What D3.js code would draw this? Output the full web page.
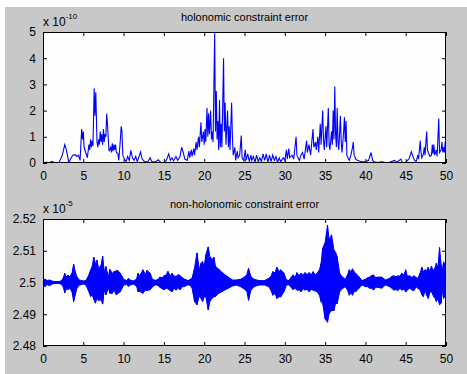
<!DOCTYPE html>
<html>
<head>
<meta charset="utf-8">
<script src="https://cdn.jsdelivr.net/npm/d3@7"></script>
<style>
  html, body { margin: 0; padding: 0; background: #fff; }
  svg { display: block; }
  text { font-family: "Liberation Sans", Arial, sans-serif; fill: #000; }
</style>
</head>
<body>
<svg id="fig" width="467" height="374"></svg>
<script>
// ---- data ----
// holonomic constraint error, values in units of 1e-10
const holoT = [0,0.5,0.8,1.1,1.4,2.0,2.4,2.7,2.9,3.2,3.5,3.7,4.0,4.2,4.4,4.6,4.8,4.9,5.0,5.1,5.3,5.5,5.7,5.8,5.9,6.0,6.1,6.2,6.35,6.45,6.55,6.7,6.8,6.9,7.0,7.1,7.2,7.3,7.4,7.5,7.6,7.7,7.8,7.9,8.0,8.1,8.2,8.4,8.5,8.6,8.7,8.8,8.9,9.0,9.1,9.3,9.4,9.6,9.7,9.8,9.9,10.1,10.3,10.5,10.7,10.9,11.1,11.3,11.5,11.7,12.1,12.3,12.6,13.0,13.3,13.5,14.0,14.3,14.6,15.0,15.3,15.6,15.8,16.0,16.2,16.5,16.7,17.0,17.2,17.4,17.6,17.9,18.1,18.2,18.4,18.5,18.7,18.8,19.0,19.1,19.3,19.4,19.6,19.7,19.9,20.0,20.1,20.2,20.35,20.45,20.55,20.65,20.8,20.9,21.0,21.1,21.3,21.4,21.5,21.6,21.7,21.8,21.9,22.0,22.1,22.2,22.4,22.5,22.6,22.7,22.9,23.0,23.1,23.2,23.4,23.5,23.6,23.8,23.9,24.1,24.2,24.4,24.6,24.7,24.9,25.1,25.2,25.4,25.6,25.8,25.9,26.1,26.3,26.5,26.7,26.9,27.1,27.3,27.5,27.7,27.9,28.1,28.3,28.5,28.7,28.9,29.1,29.3,29.5,29.8,30.0,30.2,30.3,30.5,30.6,30.9,31.1,31.4,31.5,31.8,32.0,32.2,32.4,32.7,32.8,33.0,33.2,33.5,33.6,33.8,33.9,34.1,34.2,34.4,34.5,34.7,34.8,34.9,35.1,35.2,35.4,35.5,35.6,35.8,35.9,36.0,36.1,36.2,36.3,36.4,36.5,36.6,36.7,36.9,37.0,37.1,37.3,37.4,37.5,37.6,37.7,37.9,38.0,38.2,38.4,38.5,38.6,38.8,39.0,39.5,40.0,40.4,40.7,40.9,41.1,41.5,42.0,42.5,43.0,43.6,43.9,44.4,44.6,45.0,45.4,45.7,45.9,46.1,46.3,46.5,46.6,46.8,46.9,47.0,47.2,47.3,47.4,47.6,47.7,47.8,48.0,48.2,48.3,48.4,48.5,48.6,48.8,48.9,49.1,49.2,49.4,49.5,49.6,49.7,49.8,49.9,50.0];
const holoV = [0.02,0.03,0.01,0.06,0.01,0.02,0.3,0.7,0.5,0.02,0.2,0.3,0.32,0.25,0.3,0.1,1.3,0.9,1.2,0.6,0.4,0.2,0.7,0.5,0.9,0.6,0.85,0.65,2.85,1.8,2.7,0.8,0.6,0.9,0.7,1.2,0.8,1.1,0.7,1.3,0.8,1.1,1.0,1.88,1.5,0.9,0.45,0.6,0.4,0.75,0.45,0.7,0.5,0.7,0.4,0.35,0.1,0.9,1.4,1.2,0.3,0.15,0.05,0.25,0.1,0.48,0.2,0.1,0.25,0.05,0.42,0.15,0.05,0.05,0.2,0.05,0.05,0.12,0.02,0.02,0.1,0.35,0.1,0.2,0.08,0.25,0.1,0.25,0.6,0.4,0.15,0.1,0.45,0.2,0.5,0.25,0.55,0.3,0.8,0.5,1.0,0.6,1.55,0.8,1.2,0.7,1.3,0.8,2.1,1.0,1.9,1.1,2.0,0.9,1.2,0.8,4.95,1.2,2.75,0.9,1.6,0.5,2.4,0.6,1.5,0.6,4.0,1.2,2.3,0.7,2.0,0.6,1.4,0.5,2.3,1.0,0.3,0.6,0.1,0.45,0.2,0.3,1.05,0.2,0.1,0.5,0.1,0.35,0.05,0.3,0.1,0.25,0.02,0.3,0.05,0.2,0.05,0.35,0.1,0.35,0.02,0.3,0.05,0.3,0.1,0.25,0.02,0.2,0.05,0.2,0.1,0.5,0.15,0.55,0.2,0.3,0.15,1.0,0.3,0.1,0.3,0.4,0.15,0.85,0.4,0.7,0.3,1.3,0.6,0.8,0.5,1.0,0.4,1.5,0.7,2.0,0.9,0.5,1.4,0.6,2.1,0.7,0.5,1.2,0.7,2.0,0.9,2.92,1.1,0.6,2.1,0.8,0.5,1.8,0.8,0.4,1.2,1.75,0.8,1.6,0.3,0.15,0.1,0.3,0.6,0.8,0.3,0.15,0.1,0.05,0.05,0.1,0.4,0.1,0.05,0.02,0.05,0.02,0.03,0.1,0.02,0.15,0.02,0.03,0.15,0.43,0.25,0.1,0.05,0.3,0.15,0.85,0.4,0.2,0.35,0.6,0.3,1.2,0.5,0.4,0.25,0.3,0.7,0.35,0.7,0.3,0.5,0.25,1.7,0.4,0.5,0.8,0.4,0.6,0.4,0.8,0.5];

// non-holonomic constraint error, in units of 1e-5: baseline plus upper/lower swing (x 1e-3)
const nhBase = 2.5;
const nhT  = [0,0.3,0.5,0.8,1.2,1.6,2.0,2.3,2.5,2.7,2.9,3.1,3.3,3.6,3.8,4.0,4.2,4.5,5.0,5.3,5.6,5.9,6.1,6.3,6.5,6.7,6.9,7.2,7.4,7.6,7.8,8.1,8.3,8.6,8.8,9.1,9.3,9.6,9.8,10.0,10.4,10.6,10.8,11.2,11.6,11.8,12.0,12.4,12.7,12.9,13.3,13.6,14.0,14.3,14.5,14.8,15.0,15.3,15.5,15.8,16.0,16.3,16.5,16.8,17.0,17.3,17.5,18.0,18.3,18.5,18.8,19.1,19.4,19.6,19.8,20.0,20.2,20.5,20.7,21.0,21.2,21.4,21.8,22.2,22.6,23.0,23.5,24.0,24.5,25.0,25.3,25.5,25.8,26.2,26.8,27.5,28.0,28.3,28.5,28.8,29.0,29.3,29.5,29.9,30.2,30.5,31.0,31.3,31.5,31.8,32.0,32.3,32.5,32.8,33.0,33.3,33.5,33.8,34.0,34.3,34.5,34.7,35.0,35.3,35.5,35.8,36.1,36.3,36.5,36.8,37.2,37.5,37.8,38.0,38.2,38.4,38.6,38.8,39.2,39.6,40.0,40.3,40.5,40.8,41.0,41.3,41.5,42.0,42.5,43.0,43.3,43.5,43.8,44.0,44.3,44.5,44.8,45.0,45.2,45.5,45.8,46.0,46.3,46.5,46.8,47.0,47.2,47.4,47.6,47.8,48.0,48.2,48.4,48.5,48.7,48.8,49.0,49.2,49.4,49.5,49.7,49.8,50.0];
const nhUp = [1.0,1.0,0.6,0.8,0.4,0.3,0.3,0.6,1.3,2.9,1.8,2.3,1.8,2.9,5.8,3.4,1.8,0.8,0.5,0.6,1.8,3.9,5.0,8.0,6.0,7.0,4.4,5.4,8.3,3.4,5.0,1.8,4.1,2.9,3.4,3.7,3.7,2.9,2.0,1.0,0.6,1.3,0.8,0.5,1.0,2.9,2.1,4.0,2.5,3.8,2.9,0.9,0.7,1.0,1.7,1.5,2.1,2.4,3.5,2.0,2.9,2.0,1.9,2.5,2.1,1.5,1.1,0.6,1.0,1.4,4.5,9.3,4.0,6.0,6.6,5.0,8.7,11.2,8.2,7.2,8.0,5.1,4.2,3.2,2.4,1.7,0.8,0.8,1.0,1.7,2.5,4.5,1.8,1.0,0.6,0.6,1.3,2.0,3.4,3.0,4.8,3.5,4.0,2.9,0.8,0.6,2.4,1.7,3.1,2.2,2.9,2.4,3.1,2.5,3.1,2.5,3.4,2.4,2.9,4.0,6.0,10.8,12.5,18.0,13.5,15.0,10.2,9.5,8.1,2.9,1.6,1.0,2.5,4.0,3.4,4.3,3.4,2.9,1.8,0.6,1.0,1.5,1.7,2.2,2.4,1.5,1.7,1.7,0.8,1.3,2.0,2.1,1.8,2.1,2.0,2.9,2.4,4.0,2.0,2.1,1.6,2.1,1.6,1.3,3.0,4.8,3.4,4.0,3.7,4.8,3.4,5.2,3.6,4.0,5.0,6.1,4.5,11.0,5.5,2.9,6.5,6.0,2.4];
const nhLo = [1.3,1.2,0.6,1.0,0.4,0.3,0.3,0.6,1.3,3.2,2.0,2.3,1.8,2.9,6.0,3.9,1.8,0.8,0.5,0.7,2.3,4.4,3.9,5.3,6.5,5.0,5.7,5.4,6.8,2.4,3.9,1.8,3.4,3.4,2.4,3.9,3.4,2.9,1.8,0.8,0.6,1.3,0.8,0.5,1.1,2.9,2.8,3.4,2.4,2.5,2.3,1.3,0.7,1.0,1.5,2.0,2.3,1.8,2.0,2.6,2.9,1.9,2.4,1.7,2.3,1.3,1.3,0.7,1.0,1.8,6.0,7.0,4.2,5.0,6.0,4.5,4.5,8.6,6.0,4.9,4.5,4.4,3.4,2.9,2.3,1.8,1.1,0.8,1.3,2.1,2.8,5.6,2.4,1.3,0.8,0.8,1.3,2.5,4.0,3.5,5.0,4.5,4.5,2.9,0.8,0.7,2.2,1.8,2.4,2.4,2.9,2.0,2.4,2.2,2.9,2.2,2.4,2.7,2.9,4.0,6.0,6.6,11.4,12.5,9.8,8.8,8.8,6.5,6.6,2.9,1.8,1.3,2.5,4.0,3.2,4.0,2.8,2.9,1.8,0.8,1.3,1.3,1.8,1.8,2.4,1.5,1.5,1.8,0.8,1.3,1.8,2.4,2.2,2.6,1.8,2.4,2.1,3.0,2.4,1.8,2.4,2.6,1.4,1.8,2.4,3.9,4.5,2.4,4.0,5.0,3.0,2.9,4.0,4.5,5.2,6.0,5.0,7.0,6.5,2.4,5.0,4.5,2.4];

const xTicks = [0, 5, 10, 15, 20, 25, 30, 35, 40, 45, 50];
const holoYTicks = [0, 1, 2, 3, 4, 5];
const nhYTicks = [2.48, 2.49, 2.5, 2.51, 2.52];

// ---- layout ----
const W = 467, H = 374;
const plotLeft = 43, plotRight = 446;
const panels = [
  { top: 32, bottom: 163, title: "holonomic constraint error", exp: "-10",
    domain: [0, 5], ticks: holoYTicks, fmt: d => d3.format("d")(d) },
  { top: 219, bottom: 346, title: "non-holonomic constraint error", exp: "-5",
    domain: [2.48, 2.52], ticks: nhYTicks, fmt: d => String(+d.toFixed(2)) }
];
const blue = "#0000ff";

const svg = d3.select("#fig");
svg.append("rect").attr("x", 5).attr("y", 7).attr("width", W - 5).attr("height", H - 7).attr("fill", "#c8c8c8");

const x = d3.scaleLinear().domain([0, 50]).range([plotLeft, plotRight]);

function drawFrame(g, p, y) {
  const tickLen = 4;
  g.append("rect")
    .attr("x", plotLeft).attr("y", p.top)
    .attr("width", plotRight - plotLeft).attr("height", p.bottom - p.top)
    .attr("fill", "#fefefe");

  // inward ticks on all four sides, matlab style
  const xb = d3.axisBottom(x).tickValues(xTicks).tickSizeInner(-tickLen).tickSizeOuter(0).tickPadding(8);
  const xt = d3.axisTop(x).tickValues(xTicks).tickSizeInner(-tickLen).tickSizeOuter(0).tickFormat("");
  const yl = d3.axisLeft(y).tickValues(p.ticks).tickSizeInner(-tickLen).tickSizeOuter(0).tickPadding(7).tickFormat(p.fmt);
  const yr = d3.axisRight(y).tickValues(p.ticks).tickSizeInner(-tickLen).tickSizeOuter(0).tickFormat("");

  const axes = [
    g.append("g").attr("transform", `translate(0,${p.bottom})`).call(xb),
    g.append("g").attr("transform", `translate(0,${p.top})`).call(xt),
    g.append("g").attr("transform", `translate(${plotLeft},0)`).call(yl),
    g.append("g").attr("transform", `translate(${plotRight},0)`).call(yr)
  ];
  axes.forEach(a => {
    a.select(".domain").remove();
    a.selectAll("line").attr("stroke", "#000");
    a.selectAll("text").attr("font-size", 12).attr("font-family", "Liberation Sans, Arial, sans-serif").attr("fill", "#000");
  });

  g.append("text")
    .attr("x", (plotLeft + plotRight) / 2).attr("y", p.top - 11)
    .attr("text-anchor", "middle").attr("font-size", 11)
    .text(p.title);

  const ex = g.append("text").attr("x", plotLeft).attr("y", p.top - 6).attr("font-size", 12);
  ex.append("tspan").text("x 10");
  ex.append("tspan").attr("dy", -7).attr("font-size", 8).text(p.exp);
}

function drawBox(g, p) {
  g.append("rect")
    .attr("x", plotLeft + 0.5).attr("y", p.top + 0.5)
    .attr("width", plotRight - plotLeft - 1).attr("height", p.bottom - p.top - 1)
    .attr("fill", "none").attr("stroke", "#000").attr("stroke-width", 1);
}

// ---- top panel ----
{
  const p = panels[0];
  const y = d3.scaleLinear().domain(p.domain).range([p.bottom, p.top]);
  const g = svg.append("g");
  drawFrame(g, p, y);
  g.append("clipPath").attr("id", "clip0").append("rect")
    .attr("x", plotLeft).attr("y", p.top).attr("width", plotRight - plotLeft).attr("height", p.bottom - p.top);
  const line = d3.line().x(i => x(holoT[i])).y(i => y(holoV[i]));
  g.append("path")
    .attr("clip-path", "url(#clip0)")
    .attr("d", line(d3.range(holoT.length)))
    .attr("fill", "none").attr("stroke", blue).attr("stroke-width", 1.1)
    .attr("stroke-linejoin", "miter");
  drawBox(g, p);
}

// ---- bottom panel ----
{
  const p = panels[1];
  const y = d3.scaleLinear().domain(p.domain).range([p.bottom, p.top]);
  const g = svg.append("g");
  drawFrame(g, p, y);
  g.append("clipPath").attr("id", "clip1").append("rect")
    .attr("x", plotLeft).attr("y", p.top).attr("width", plotRight - plotLeft).attr("height", p.bottom - p.top);
  const idx = d3.range(nhT.length);
  const area = d3.area()
    .x(i => x(nhT[i]))
    .y0(i => y(nhBase - nhLo[i] * 1e-3))
    .y1(i => y(nhBase + nhUp[i] * 1e-3));
  g.append("path")
    .attr("clip-path", "url(#clip1)")
    .attr("d", area(idx))
    .attr("fill", blue).attr("stroke", blue).attr("stroke-width", 1);
  // thin zig-zag between the swings for the oscillating texture
  const zig = d3.line().x(d => x(d.t)).y(d => y(d.v));
  const pts = idx.flatMap(i => [
    { t: nhT[i], v: nhBase + nhUp[i] * 1e-3 },
    { t: nhT[i], v: nhBase - nhLo[i] * 1e-3 }
  ]);
  g.append("path")
    .attr("clip-path", "url(#clip1)")
    .attr("d", zig(pts))
    .attr("fill", "none").attr("stroke", blue).attr("stroke-width", 1);
  drawBox(g, p);
}
</script>
</body>
</html>
